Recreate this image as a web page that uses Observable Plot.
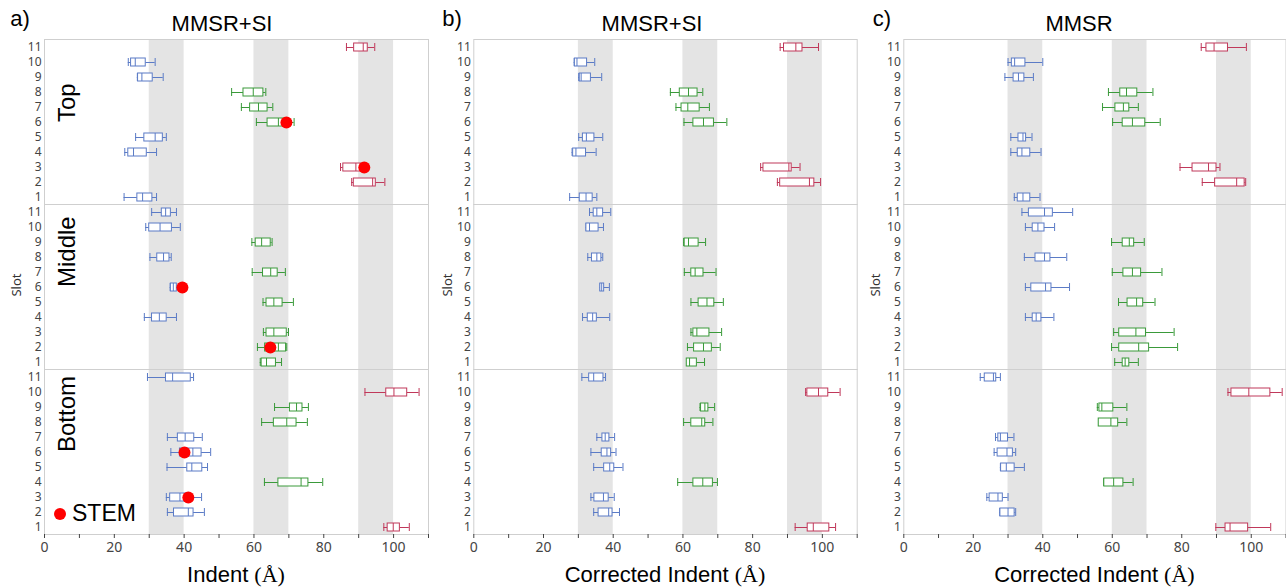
<!DOCTYPE html>
<html>
<head>
<meta charset="utf-8">
<script src="https://cdn.jsdelivr.net/npm/d3@7"></script>
<script src="https://cdn.jsdelivr.net/npm/@observablehq/plot@0.6"></script>
<style>
  body { margin: 0; background: #fff; }
  #wrap { position: relative; width: 1286px; height: 587px; overflow: hidden; background: #fff; }
  .pnl { position: absolute; top: 0; }
  .lbl { position: absolute; transform: translate(-50%, -50%); white-space: nowrap; font-family: "Liberation Sans", Arial, sans-serif; color: #000; }
  .big { font-size: 22px; }
  .serif { font-family: "Liberation Serif", serif; }
  .slot { position: absolute; transform: translate(-50%, -50%) rotate(-90deg); font-family: "Noto Sans", sans-serif; font-size: 13px; color: #333; }
  .legend { position: absolute; left: 54px; top: 500px; display: flex; align-items: center; font-family: "Liberation Sans", Arial, sans-serif; font-size: 23px; color: #000; }
  .legend span.dot { display: inline-block; width: 12px; height: 12px; border-radius: 50%; background: #ff0000; margin-right: 6px; }
</style>
</head>
<body>
<div id="wrap"></div>
<script>
const slots = [1,2,3,4,5,6,7,8,9,10,11];
const positions = ["Top", "Middle", "Bottom"];
const bands = [[30, 40], [60, 70], [90, 100]];
const xTicks = [0, 10, 20, 30, 40, 50, 60, 70, 80, 90, 100, 110];
// group per slot (1..11): b = blue, g = green, r = red
const groups = {Top: "brrbbgggbbr", Middle: "gggbgbgbgbb", Bottom: "rbbgbbbggrb"};
const groupColors = {b: "#5b7bc6", g: "#3a9a3a", r: "#c0385a"};

// five-number summaries [whiskerLow, q1, median, q3, whiskerHigh] for slots 1..11
const aTop = [[22.8,26.6,28.1,30.9,32.1],[88.0,88.6,94.0,94.9,97.5],[84.8,85.6,89.2,90.8,92.0],[23.0,24.0,25.5,29.3,32.1],[26.1,28.6,31.7,33.9,34.9],[60.7,63.9,67.0,69.2,71.5],[56.4,58.9,61.3,63.9,65.4],[53.6,57.0,59.8,62.7,63.4],[26.6,26.8,27.9,31.0,34.0],[24.0,24.8,26.0,29.0,31.7],[86.5,88.7,91.3,92.6,94.6]];
const aMiddle = [[61.8,62.2,63.6,66.3,67.9],[61.0,63.2,67.0,69.2,69.4],[62.7,63.6,65.7,69.4,69.9],[28.6,30.8,32.9,35.0,37.8],[62.6,63.6,65.7,68.2,71.3],[36.0,36.2,36.9,37.9,38.4],[59.5,62.6,64.8,66.8,69.0],[30.2,32.3,34.1,35.8,36.3],[59.4,60.5,62.2,64.8,65.2],[29.0,30.0,33.1,36.5,38.9],[30.7,33.6,34.7,36.2,37.8]];
const aBottom = [[97.2,98.3,99.9,101.8,104.5],[35.2,37.1,41.2,42.7,45.8],[34.9,36.0,38.8,41.2,45.0],[63.0,67.0,73.5,75.6,79.7],[35.1,40.9,42.2,45.2,46.7],[36.2,38.8,42.5,45.0,47.6],[35.2,38.2,40.3,42.9,45.2],[62.2,65.7,69.4,72.2,75.3],[65.9,70.3,72.2,73.9,75.6],[91.8,97.9,100.1,103.9,107.3],[29.5,34.8,36.7,41.9,42.7]];

const bTop = [[27.5,30.4,32.2,34.1,35.3],[87.1,87.9,96.3,97.7,99.5],[82.3,83.1,90.4,91.2,93.6],[28.2,28.5,29.3,32.2,35.1],[30.1,31.3,32.3,34.6,37.0],[60.3,63.0,65.9,68.9,72.6],[58.0,59.6,61.4,64.8,67.6],[56.4,59.1,61.6,64.2,65.7],[30.1,30.4,30.8,33.6,36.7],[28.8,29.0,29.6,32.5,34.7],[87.9,89.0,92.4,94.3,98.9]];
const bMiddle = [[61.1,61.1,61.9,64.0,66.2],[61.3,63.2,65.9,68.3,70.7],[62.3,63.0,64.0,67.6,71.1],[31.2,32.7,34.1,35.3,39.0],[62.3,64.5,66.9,69.0,71.6],[36.2,36.3,36.7,37.4,38.9],[60.4,62.4,63.5,65.9,69.5],[32.7,33.9,35.3,36.6,37.0],[60.2,60.5,61.6,64.5,66.5],[32.2,32.3,33.2,35.8,37.2],[33.2,34.4,35.3,37.1,39.3]];
const bBottom = [[92.2,95.8,97.4,102.0,103.8],[34.4,35.8,38.7,39.8,41.8],[33.6,34.6,37.2,38.7,40.3],[58.5,63.0,65.7,68.6,69.9],[34.4,37.4,39.0,40.3,42.8],[33.6,36.7,38.2,39.4,40.8],[35.3,36.9,37.7,38.9,40.4],[60.2,62.4,65.4,66.4,68.6],[64.9,65.2,66.3,67.3,69.1],[95.2,95.7,98.9,101.7,105.1],[31.0,33.1,34.4,37.2,37.8]];

const cTop = [[31.8,32.8,34.3,36.4,39.2],[85.9,89.6,95.8,98.1,98.4],[79.5,83.1,87.7,90.0,91.0],[30.8,32.8,34.0,36.4,39.5],[30.8,33.0,34.3,35.2,36.9],[60.1,63.0,65.8,69.5,73.8],[57.2,60.9,63.2,64.9,67.5],[58.9,62.3,64.1,67.2,71.7],[29.1,31.6,33.0,34.7,37.3],[30.0,31.1,31.9,35.0,40.0],[85.6,87.1,89.3,93.3,98.6]];
const cMiddle = [[60.7,63.0,63.7,64.9,67.5],[59.8,62.0,67.6,70.6,78.8],[60.4,62.0,66.8,69.7,77.8],[35.0,37.1,38.1,39.6,43.2],[61.8,64.4,67.0,68.9,72.3],[35.0,36.7,40.8,42.5,47.7],[60.0,63.2,65.8,68.3,74.3],[34.7,37.9,40.5,42.2,46.9],[59.8,63.0,64.9,66.3,69.2],[35.0,37.1,38.6,40.5,43.4],[34.0,36.0,40.5,42.9,48.6]];
const cBottom = [[89.8,92.6,93.9,99.1,105.6],[27.6,27.8,30.0,31.9,32.2],[23.9,24.7,27.1,28.5,30.0],[57.5,57.7,60.4,63.2,66.0],[27.8,28.0,29.5,31.9,34.7],[26.0,27.0,29.7,31.4,32.2],[26.4,27.2,27.8,30.0,31.7],[56.1,56.1,59.6,61.7,64.2],[55.7,56.3,57.0,60.3,64.2],[93.3,94.3,99.3,105.5,108.9],[22.0,23.3,25.8,26.6,27.8]];

// STEM measurements (panel a only)
const stemPos = ["Top", "Top", "Middle", "Middle", "Bottom", "Bottom"];
const stemSlot = [6, 3, 6, 2, 6, 3];
const stemValue = [69.3, 91.6, 39.5, 64.7, 40.1, 41.2];

const panelTitles = ["MMSR+SI", "MMSR+SI", "MMSR"];
const panelLetters = ["a)", "b)", "c)"];
const xLabels = ["Indent", "Corrected Indent", "Corrected Indent"];

function toRows(byPos) {
  const rows = [];
  for (const pos of positions) {
    byPos[pos].forEach((v, i) => {
      rows.push({pos, slot: slots[i], grp: groups[pos][i], lo: v[0], q1: v[1], med: v[2], q3: v[3], hi: v[4]});
    });
  }
  return rows;
}

const panels = [
  {left: 0, ml: 44, mr: 2, rows: toRows({Top: aTop, Middle: aMiddle, Bottom: aBottom}), stem: true, facetText: true},
  {left: 430, ml: 43.3, mr: 3.3, rows: toRows({Top: bTop, Middle: bMiddle, Bottom: bBottom}), stem: false, facetText: false},
  {left: 856, ml: 47.3, mr: 0.5, rows: toRows({Top: cTop, Middle: cMiddle, Bottom: cBottom}), stem: false, facetText: false}
];

const stem = stemPos.map((p, i) => ({pos: p, slot: stemSlot[i], x: stemValue[i]}));
const wrap = document.getElementById("wrap");

panels.forEach((p, k) => {
  const color = d => groupColors[d.grp];
  const marks = [
    Plot.rectX(bands, {x1: d => d[0], x2: d => d[1], fill: "#e4e4e4"}),
    Plot.frame({stroke: "#cfcfcf"}),
    Plot.axisX({ticks: xTicks, tickSize: 4, tickFormat: d => (d % 20 === 0 && d <= 100) ? d : "", fontSize: 14, fontFamily: "Noto Sans", label: null, tickPadding: 4}),
    Plot.axisY({tickSize: 0, tickPadding: 3, fontSize: 12, fontFamily: "Noto Sans", label: null}),
    Plot.ruleY(p.rows, {y: "slot", fy: "pos", x1: "lo", x2: "q1", stroke: color, strokeWidth: 1}),
    Plot.ruleY(p.rows, {y: "slot", fy: "pos", x1: "q3", x2: "hi", stroke: color, strokeWidth: 1}),
    Plot.tickX(p.rows, {y: "slot", fy: "pos", x: "lo", stroke: color, strokeWidth: 1}),
    Plot.tickX(p.rows, {y: "slot", fy: "pos", x: "hi", stroke: color, strokeWidth: 1}),
    Plot.barX(p.rows, {y: "slot", fy: "pos", x1: "q1", x2: "q3", fill: "white", stroke: color, strokeWidth: 1}),
    Plot.tickX(p.rows, {y: "slot", fy: "pos", x: "med", stroke: color, strokeWidth: 1})
  ];
  if (p.stem) marks.push(Plot.dot(stem, {y: "slot", fy: "pos", x: "x", r: 6, fill: "#ff0000", stroke: "none"}));
  if (p.facetText) marks.push(Plot.text(positions, {fy: d => d, text: d => d, frameAnchor: "left", dx: 23, rotate: -90, fontSize: 24, fontFamily: "Liberation Sans", fill: "#000"}));

  const chart = Plot.plot({
    width: 430,
    height: 587,
    marginLeft: p.ml,
    marginRight: p.mr,
    marginTop: 39,
    marginBottom: 53,
    style: {color: "#444", background: "transparent", overflow: "visible"},
    x: {domain: [0, 110]},
    y: {type: "band", domain: slots.slice().reverse(), paddingInner: 0.5, paddingOuter: 0.25},
    fy: {domain: positions, padding: 0, axis: null},
    marks
  });
  chart.classList.add("pnl");
  chart.style.left = p.left + "px";
  chart.style.position = "absolute";
  chart.style.top = "0px";
  wrap.appendChild(chart);

  const plotCenter = p.left + p.ml + (430 - p.ml - p.mr) / 2;
  const title = document.createElement("div");
  title.className = "lbl big";
  title.textContent = panelTitles[k];
  title.style.left = (k === 0 ? 222 : k === 1 ? 652 : 1079) + "px";
  title.style.top = "24px";
  wrap.appendChild(title);

  const letter = document.createElement("div");
  letter.className = "lbl big";
  letter.textContent = panelLetters[k];
  letter.style.left = (k === 0 ? 20 : k === 1 ? 452 : 882) + "px";
  letter.style.top = "19px";
  wrap.appendChild(letter);

  const xl = document.createElement("div");
  xl.className = "lbl big";
  xl.innerHTML = xLabels[k] + ' <span class="serif">(Å)</span>';
  xl.style.left = plotCenter + "px";
  xl.style.top = "575px";
  wrap.appendChild(xl);

  const sl = document.createElement("div");
  sl.className = "slot";
  sl.textContent = "Slot";
  sl.style.left = (k === 0 ? 16 : k === 1 ? 447 : 875) + "px";
  sl.style.top = "285px";
  wrap.appendChild(sl);
});

const leg = document.createElement("div");
leg.className = "legend";
leg.innerHTML = '<span class="dot"></span>STEM';
wrap.appendChild(leg);
</script>
</body>
</html>
